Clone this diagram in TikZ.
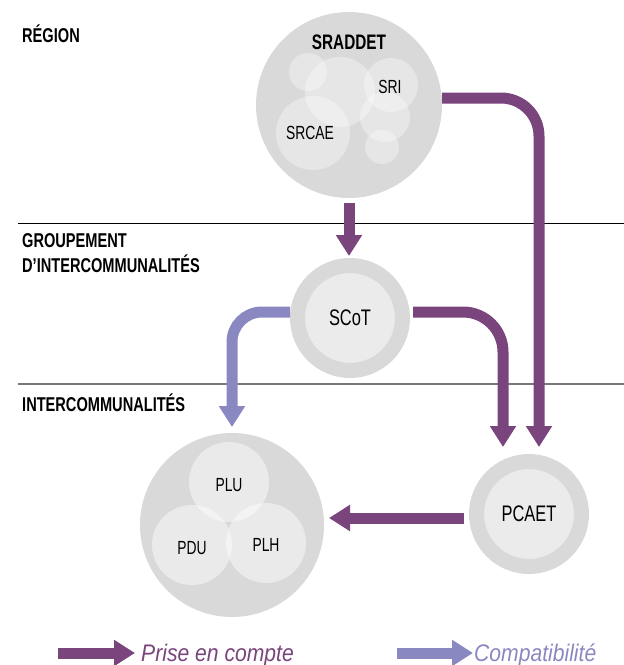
\documentclass[tikz,border=0pt]{standalone}
\usepackage{fontspec}
\usepackage{tikz}
\usetikzlibrary{positioning,arrows.meta,calc}
\newfontfamily\condfont[FakeStretch=0.73]{Liberation Sans}
\newfontfamily\legendfont[FakeStretch=0.88]{Liberation Sans}
\definecolor{prisecol}{RGB}{122,68,124}
\definecolor{compcol}{RGB}{138,136,192}
\definecolor{ringgray}{RGB}{217,217,217}
\definecolor{coregray}{RGB}{235,235,235}
\definecolor{rulegray}{RGB}{120,120,120}
\tikzset{
  level/.style={font=\condfont\bfseries\fontsize{20}{25}\selectfont,inner sep=0pt,align=left},
  ring/.style={circle,fill=coregray,draw=ringgray,line width=15pt,minimum size=105pt,inner sep=0pt,font=\condfont\fontsize{22.5}{27}\selectfont},
  bubble/.style={circle,fill=ringgray,inner sep=0pt,outer sep=0pt},
  lbl/.style={font=\condfont\fontsize{19}{23}\selectfont,inner sep=0pt},
  link/.style={line width=11pt,-{Triangle[width=25pt,length=21pt]}},
  prise/.style={link,draw=prisecol},
  compat/.style={link,draw=compcol},
  legtext/.style={font=\legendfont\itshape\fontsize{24}{28}\selectfont,inner sep=0pt}
}
\begin{document}
\begin{tikzpicture}[x=1pt,y=-1pt]
\useasboundingbox (0,0) rectangle (624,665);
% Levels
\draw[line width=1pt] (18,223)--(624,223);
\draw[rulegray,line width=1.2pt] (18,384)--(624,384);
\node[level,anchor=base west] (region) at (22,42) {RÉGION};
\node[level,anchor=north west] (groupement) at (22,233) {GROUPEMENT\\D’INTERCOMMUNALITÉS};
\node[level,anchor=base west] (interco) at (22,411) {INTERCOMMUNALITÉS};
% Region
\node[bubble,minimum size=186pt] (sraddet) at (349,105) {};
\foreach \cx/\cy/\r in {308/72/19,340/92/35,391/85/27,313/133/37,385/117/25,382/147/17}
  \fill[white,opacity=0.35] (\cx,\cy) circle (\r pt);
\node[lbl,font=\condfont\bfseries\fontsize{21}{25}\selectfont] (sraddettext) at (349,42) {SRADDET};
\node[lbl] (sri) at (390,87) {SRI};
\node[lbl] (srcae) at (310,133) {SRCAE};
% Groupement
\node[ring] (scot) at (350,318) {SCoT};
% Intercommunalites
\node[ring] (pcaet) at (529,514) {PCAET};
\node[bubble,minimum size=184pt] (plans) at (232,525) {};
\foreach \cx/\cy in {229/482,192/545,266/543}
  \fill[white,opacity=0.45] (\cx,\cy) circle (40pt);
\node[lbl] (plu) at (229,485) {PLU};
\node[lbl] (pdu) at (192,548) {PDU};
\node[lbl] (plh) at (266,545) {PLH};
% Links
\draw[prise,shorten <=5pt,shorten >=2pt] (sraddet.south)--(sraddet.south |- scot.north);
\draw[prise,rounded corners=38pt,shorten >=7pt] ([yshift=7pt]sraddet.east) -| ([xshift=10pt]pcaet.north);
\draw[prise,rounded corners=40pt,shorten <=3pt,shorten >=7pt] ([yshift=6pt]scot.east) -| ([xshift=-26pt]pcaet.north);
\draw[compat,rounded corners=30pt,shorten >=6pt] ([yshift=6pt]scot.west) -| (plans.north);
\draw[prise,shorten <=5pt,shorten >=5pt] ([yshift=-4pt]pcaet.west)--([yshift=-4pt]pcaet.west -| plans.east);
% Legend
\node[legtext,text=prisecol,anchor=base west] (prisetext) at (141,661) {Prise en compte};
\coordinate (prisestart) at (58,653);
\draw[prise,shorten >=6pt] (prisestart)--(prisestart -| prisetext.west);
\node[legtext,text=compcol,anchor=base west] (compattext) at (474,661) {Compatibilité};
\coordinate (compatstart) at (397,653);
\draw[compat,shorten >=1pt] (compatstart)--(compatstart -| compattext.west);
\end{tikzpicture}
\end{document}
